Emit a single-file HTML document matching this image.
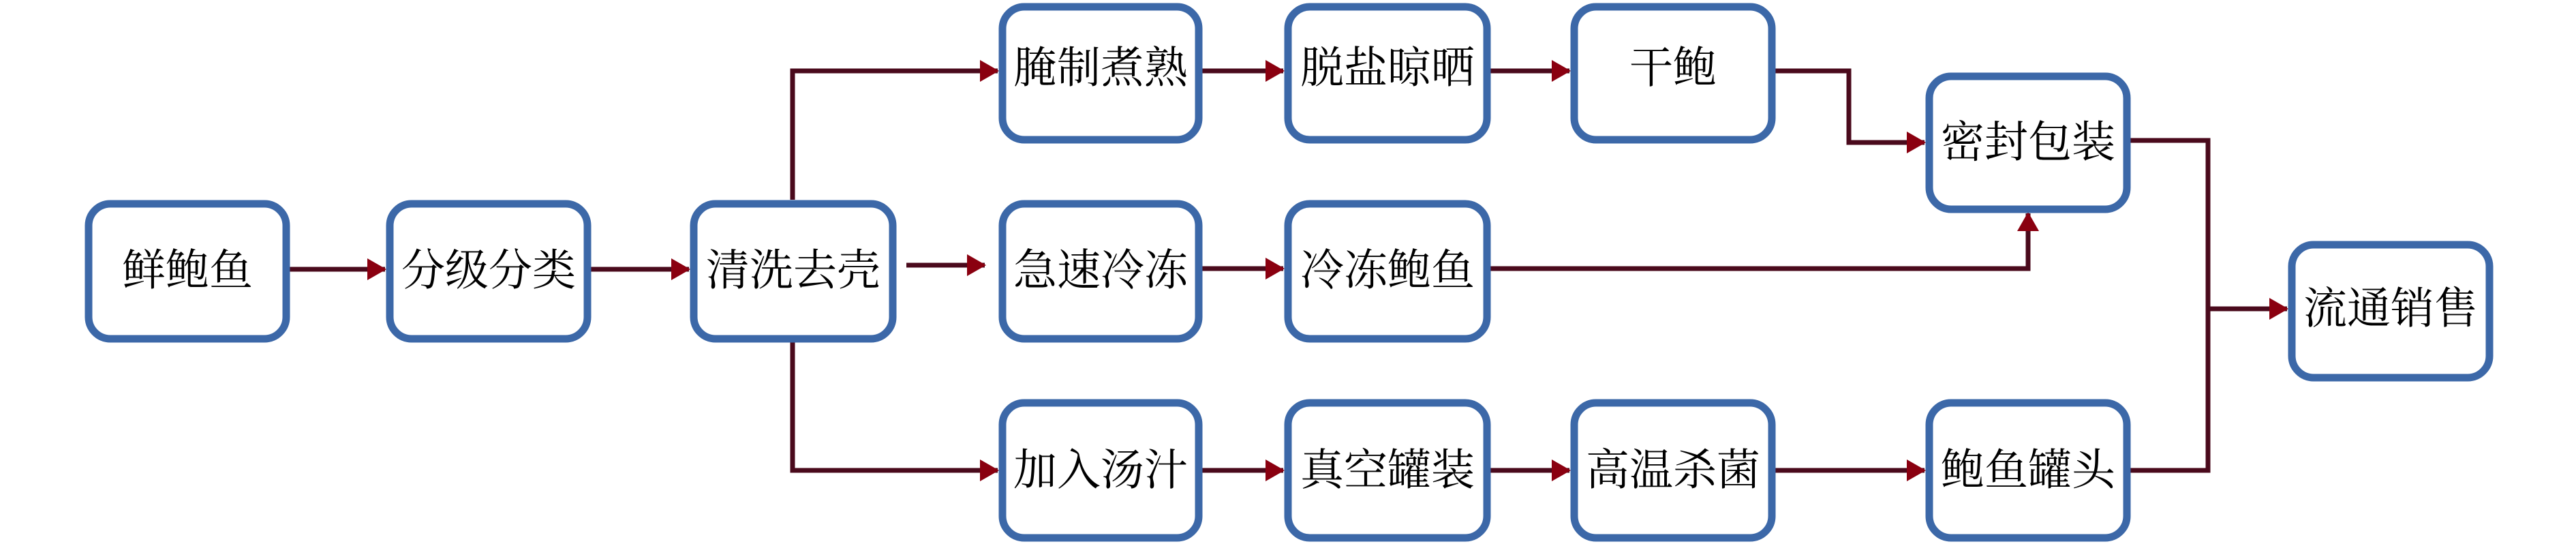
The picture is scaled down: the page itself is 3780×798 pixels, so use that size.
<!DOCTYPE html>
<html><head><meta charset="utf-8"><style>
html,body{margin:0;padding:0;background:#fff;}
svg{display:block;}
text{font-family:"Liberation Serif","Noto Serif CJK SC",serif;font-size:64px;fill:#000;text-anchor:middle;dominant-baseline:central;}
</style></head><body>
<svg width="3780" height="798" viewBox="0 0 3780 798" xmlns="http://www.w3.org/2000/svg">
<defs>
<marker id="a" markerWidth="28" markerHeight="32" refX="26" refY="16" orient="auto" markerUnits="userSpaceOnUse">
<path d="M0,0 L28,16 L0,32 Z" fill="#8a0010"/>
</marker>
</defs>
<g fill="none" stroke="#4a0a1c" stroke-width="7">
<line x1="424" y1="395" x2="565" y2="395" marker-end="url(#a)"/>
<line x1="866" y1="395" x2="1011" y2="395" marker-end="url(#a)"/>
<polyline points="1163,293 1163,104 1464,104" marker-end="url(#a)"/>
<polyline points="1163,502 1163,690 1464,690" marker-end="url(#a)"/>
<line x1="1330" y1="389" x2="1445" y2="389" marker-end="url(#a)"/>
<line x1="1764" y1="104" x2="1883" y2="104" marker-end="url(#a)"/>
<line x1="2187" y1="104" x2="2303" y2="104" marker-end="url(#a)"/>
<polyline points="2605,104 2713,104 2713,209 2824,209" marker-end="url(#a)"/>
<line x1="1764" y1="394" x2="1883" y2="394" marker-end="url(#a)"/>
<polyline points="2187,394 2976,394 2976,313" marker-end="url(#a)"/>
<line x1="1764" y1="690" x2="1883" y2="690" marker-end="url(#a)"/>
<line x1="2187" y1="690" x2="2303" y2="690" marker-end="url(#a)"/>
<line x1="2605" y1="690" x2="2824" y2="690" marker-end="url(#a)"/>
<polyline points="3126,206 3240,206 3240,690 3126,690"/>
<line x1="3240" y1="453" x2="3356" y2="453" marker-end="url(#a)"/>
</g>
<g fill="#fff" stroke="#3c68a8" stroke-width="11">
<rect x="130" y="299" width="290" height="198" rx="32"/>
<rect x="572" y="299" width="290" height="198" rx="32"/>
<rect x="1018" y="299" width="292" height="198" rx="32"/>
<rect x="1471" y="10" width="288" height="195" rx="32"/>
<rect x="1890" y="10" width="292" height="195" rx="32"/>
<rect x="2310" y="10" width="290" height="195" rx="32"/>
<rect x="1471" y="299" width="288" height="198" rx="32"/>
<rect x="1890" y="299" width="292" height="198" rx="32"/>
<rect x="1471" y="591" width="288" height="198" rx="32"/>
<rect x="1890" y="591" width="292" height="198" rx="32"/>
<rect x="2310" y="591" width="290" height="198" rx="32"/>
<rect x="2831" y="112" width="290" height="195" rx="32"/>
<rect x="2831" y="591" width="290" height="198" rx="32"/>
<rect x="3363" y="359" width="290" height="195" rx="32"/>
</g>
<text x="275" y="397">鲜鲍鱼</text>
<text x="717" y="397">分级分类</text>
<text x="1164" y="397">清洗去壳</text>
<text x="1615" y="100">腌制煮熟</text>
<text x="2036" y="100">脱盐晾晒</text>
<text x="2455" y="100">干鲍</text>
<text x="1615" y="397">急速冷冻</text>
<text x="2036" y="397">冷冻鲍鱼</text>
<text x="1615" y="690">加入汤汁</text>
<text x="2036" y="690">真空罐装</text>
<text x="2455" y="690">高温杀菌</text>
<text x="2976" y="209">密封包装</text>
<text x="2976" y="690">鲍鱼罐头</text>
<text x="3508" y="453">流通销售</text>
</svg>
</body></html>
